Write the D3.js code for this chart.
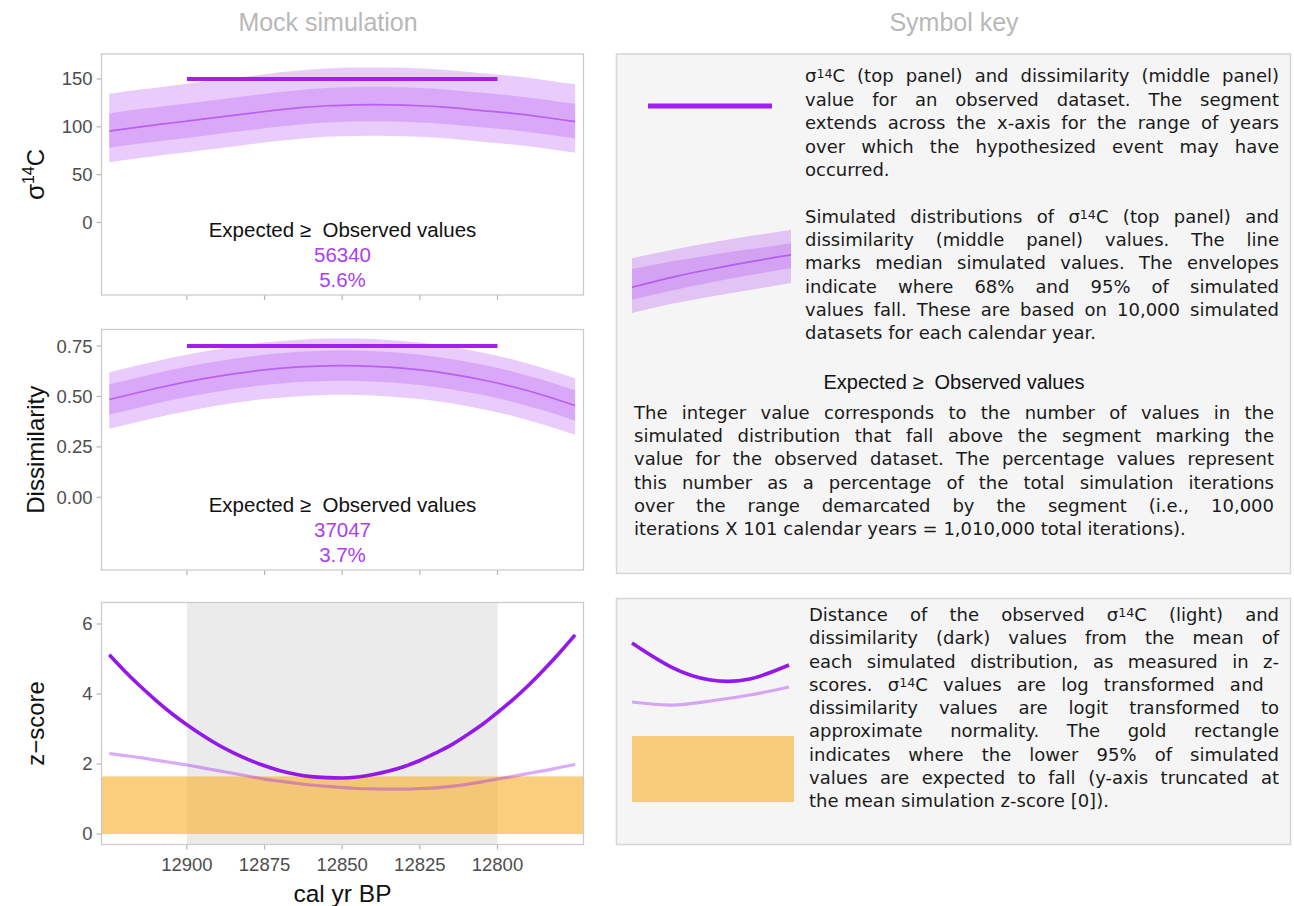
<!DOCTYPE html>
<html>
<head>
<meta charset="utf-8">
<script src="https://cdn.jsdelivr.net/npm/d3@7"></script>
<style>
  body { margin: 0; background: #fff; }
  svg { display: block; }
</style>
</head>
<body>
<svg id="chart" width="1294" height="906"></svg>
<script>
// ---- simulated distributions (10-year steps, cal yr BP) ----
const bandYears = [12925, 12915, 12905, 12895, 12885, 12875, 12865, 12855, 12845, 12835, 12825, 12815, 12805, 12795, 12785, 12775];

const c14Median = [95.5, 100, 104, 108, 112, 116, 119.5, 122, 123, 123, 122, 120, 117, 114, 110, 105.5];
const c14Lo68   = [78, 82.5, 86.5, 90.5, 94.5, 98.5, 102, 104.5, 105.5, 105.5, 104.5, 102.5, 99.5, 96.5, 92.5, 88];
const c14Hi68   = [114, 118.5, 122.5, 126.5, 130.5, 134.5, 138, 140.5, 141.5, 141.5, 140.5, 138.5, 135.5, 132.5, 128.5, 124];
const c14Lo95   = [63, 67.5, 71.5, 75.5, 79.5, 83.5, 87, 89.5, 90.5, 90.5, 89.5, 87.5, 84.5, 81.5, 77.5, 73];
const c14Hi95   = [134.5, 139, 143, 147, 151, 155, 158.5, 161, 162, 162, 161, 159, 156, 153, 149, 144.5];

const dissMedian = [0.485, 0.522, 0.557, 0.587, 0.612, 0.632, 0.645, 0.652, 0.652, 0.645, 0.632, 0.611, 0.583, 0.548, 0.505, 0.455];
const dissLo68   = [0.41, 0.447, 0.482, 0.512, 0.537, 0.557, 0.57, 0.577, 0.577, 0.57, 0.557, 0.536, 0.508, 0.473, 0.43, 0.38];
const dissHi68   = [0.56, 0.597, 0.632, 0.662, 0.687, 0.707, 0.72, 0.727, 0.727, 0.72, 0.707, 0.686, 0.658, 0.623, 0.58, 0.53];
const dissLo95   = [0.34, 0.377, 0.412, 0.442, 0.467, 0.487, 0.5, 0.507, 0.507, 0.5, 0.487, 0.466, 0.438, 0.403, 0.36, 0.31];
const dissHi95   = [0.62, 0.657, 0.692, 0.722, 0.747, 0.767, 0.78, 0.787, 0.787, 0.78, 0.767, 0.746, 0.718, 0.683, 0.64, 0.59];

// ---- observed values and event window ----
const eventWindow = [12900, 12800];
const c14Observed = 150;
const dissObserved = 0.75;
const c14Counts = ["56340", "5.6%"];
const dissCounts = ["37047", "3.7%"];

// ---- z-scores of the observed values (5-year steps) ----
const zYears = [12925, 12920, 12915, 12910, 12905, 12900, 12895, 12890, 12885, 12880, 12875, 12870, 12865, 12860, 12855, 12850,
                12845, 12840, 12835, 12830, 12825, 12820, 12815, 12810, 12805, 12800, 12795, 12790, 12785, 12780, 12775];
const zDissim = [5.12, 4.65, 4.22, 3.82, 3.45, 3.12, 2.82, 2.55, 2.32, 2.12, 1.95, 1.81, 1.71, 1.64, 1.61, 1.60,
                 1.63, 1.70, 1.80, 1.93, 2.10, 2.31, 2.54, 2.82, 3.12, 3.47, 3.84, 4.25, 4.70, 5.18, 5.69];
const zC14    = [2.30, 2.24, 2.18, 2.11, 2.04, 1.97, 1.89, 1.81, 1.73, 1.65, 1.57, 1.51, 1.45, 1.40, 1.36, 1.33,
                 1.30, 1.29, 1.28, 1.28, 1.30, 1.32, 1.36, 1.42, 1.49, 1.57, 1.65, 1.73, 1.81, 1.90, 1.99];
const zUpper95 = 1.645;

// ---- tick labels ----
const xTicks = [12900, 12875, 12850, 12825, 12800];
const c14Ticks = [0, 50, 100, 150];
const dissTicks = [0, 0.25, 0.5, 0.75];
const zTicks = [0, 2, 4, 6];

// ---- symbol key samples (position along icon 0..1) ----
const keyT = [0, 0.25, 0.5, 0.75, 1];
const keyBandMedian = [0.31, 0.43, 0.53, 0.62, 0.70];
const keyBandLo68 = [0.16, 0.27, 0.37, 0.46, 0.54];
const keyBandHi68 = [0.53, 0.62, 0.70, 0.77, 0.84];
const keyBandLo95 = [0.0, 0.11, 0.20, 0.28, 0.36];
const keyBandHi95 = [0.66, 0.76, 0.85, 0.93, 1.0];
const keyZDark = [0.957, 0.614, 0.429, 0.443, 0.643];
const keyZLight = [0.114, 0.071, 0.129, 0.214, 0.329];

// ---- key text ----
const keyPara1 = [
  "σ14C (top panel) and dissimilarity (middle panel)",
  "value for an observed dataset. The segment",
  "extends across the x-axis for the range of years",
  "over which the hypothesized event may have",
  "occurred."
];
const keyPara2 = [
  "Simulated distributions of σ14C (top panel) and",
  "dissimilarity (middle panel) values. The line",
  "marks median simulated values. The envelopes",
  "indicate where 68% and 95% of simulated",
  "values fall. These are based on 10,000 simulated",
  "datasets for each calendar year."
];
const keyPara3 = [
  "The integer value corresponds to the number of values in the",
  "simulated distribution that fall above the segment marking the",
  "value for the observed dataset. The percentage values represent",
  "this number as a percentage of the total simulation iterations",
  "over the range demarcated by the segment (i.e., 10,000",
  "iterations X 101 calendar years = 1,010,000 total iterations)."
];
const keyPara4 = [
  "Distance of the observed σ14C (light) and",
  "dissimilarity (dark) values from the mean of",
  "each simulated distribution, as measured in z-",
  "scores. σ14C values are log transformed and ",
  "dissimilarity values are logit transformed to",
  "approximate normality. The gold rectangle",
  "indicates where the lower 95% of simulated",
  "values are expected to fall (y-axis truncated at",
  "the mean simulation z-score [0])."
];

// ---------------------------------------------------------------
const PURPLE = "#a020f0";
const SANS = "'Liberation Sans', Arial, Helvetica, sans-serif";
const KEYFONT = "'DejaVu Sans', Verdana, sans-serif";
const svg = d3.select("#chart");

const x = d3.scaleLinear().domain([12927.5, 12772.3]).range([101.5, 583.5]);

// σ14C with a raised, smaller "14"
function addSigma(textSel, str, fs, shift) {
  const parts = str.split(/(σ14C)/);
  parts.forEach(p => {
    if (p === "") return;
    if (p === "σ14C") {
      textSel.append("tspan").text("σ");
      textSel.append("tspan").text("14").attr("font-size", fs * 0.7).attr("dy", -fs * shift);
      textSel.append("tspan").text("C").attr("dy", fs * shift);
    } else {
      textSel.append("tspan").text(p);
    }
  });
}

function panelFrame(p) {
  const g = svg.append("g");
  const id = "clip" + p.name;
  svg.append("defs").append("clipPath").attr("id", id)
    .append("rect").attr("x", x.range()[0]).attr("y", p.top)
    .attr("width", x.range()[1] - x.range()[0]).attr("height", p.bottom - p.top);
  const inner = g.append("g").attr("clip-path", `url(#${id})`);
  return { g, inner };
}

function axes(g, p, y, tickFmt, showXLabels) {
  const yt = g.append("g");
  p.ticks.forEach(v => {
    yt.append("line").attr("x1", x.range()[0] - 5).attr("x2", x.range()[0])
      .attr("y1", y(v)).attr("y2", y(v)).attr("stroke", "#b5b5b5").attr("stroke-width", 1.2);
    yt.append("text").attr("x", x.range()[0] - 9).attr("y", y(v)).attr("dy", "0.35em")
      .attr("text-anchor", "end").attr("font-family", SANS).attr("font-size", 18.5)
      .attr("fill", "#4d4d4d").text(tickFmt(v));
  });
  const xt = g.append("g");
  xTicks.forEach(v => {
    xt.append("line").attr("x1", x(v)).attr("x2", x(v))
      .attr("y1", p.bottom).attr("y2", p.bottom + 5).attr("stroke", "#b5b5b5").attr("stroke-width", 1.2);
    if (showXLabels) {
      xt.append("text").attr("x", x(v)).attr("y", p.bottom + 20).attr("dy", "0.35em")
        .attr("text-anchor", "middle").attr("font-family", SANS).attr("font-size", 18.5)
        .attr("fill", "#4d4d4d").text(v);
    }
  });
  g.append("rect").attr("x", x.range()[0]).attr("y", p.top)
    .attr("width", x.range()[1] - x.range()[0]).attr("height", p.bottom - p.top)
    .attr("fill", "none").attr("stroke", "#cccccc").attr("stroke-width", 1.3);
  const t = g.append("text")
    .attr("transform", `translate(44,${(p.top + p.bottom) / 2}) rotate(-90)`)
    .attr("text-anchor", "middle").attr("font-family", SANS).attr("font-size", 24).attr("fill", "#111");
  if (p.title === "σ14C") {
    t.append("tspan").text("σ").attr("font-size", 26);
    t.append("tspan").text("14").attr("font-size", 16).attr("dy", -10);
    t.append("tspan").text("C").attr("dy", 10);
  } else {
    t.text(p.title);
  }
}

function bandPanel(p) {
  const y = d3.scaleLinear().domain(p.domain).range([p.bottom, p.top]);
  const { g, inner } = panelFrame(p);
  const rows = bandYears.map((yr, i) => ({ yr, med: p.med[i], lo68: p.lo68[i], hi68: p.hi68[i], lo95: p.lo95[i], hi95: p.hi95[i] }));
  const curve = d3.curveNatural;
  inner.append("path").datum(rows)
    .attr("d", d3.area().x(d => x(d.yr)).y0(d => y(d.lo95)).y1(d => y(d.hi95)).curve(curve))
    .attr("fill", PURPLE).attr("fill-opacity", 0.23);
  inner.append("path").datum(rows)
    .attr("d", d3.area().x(d => x(d.yr)).y0(d => y(d.lo68)).y1(d => y(d.hi68)).curve(curve))
    .attr("fill", PURPLE).attr("fill-opacity", 0.2);
  inner.append("path").datum(rows)
    .attr("d", d3.line().x(d => x(d.yr)).y(d => y(d.med)).curve(curve))
    .attr("fill", "none").attr("stroke", PURPLE).attr("stroke-opacity", 0.55).attr("stroke-width", 1.7);
  inner.append("line").attr("x1", x(eventWindow[0])).attr("x2", x(eventWindow[1]))
    .attr("y1", y(p.observed)).attr("y2", y(p.observed))
    .attr("stroke", PURPLE).attr("stroke-width", 4);
  const cx = (x.range()[0] + x.range()[1]) / 2;
  g.append("text").attr("x", cx).attr("y", p.bottom - 65).attr("dy", "0.35em")
    .attr("text-anchor", "middle").attr("font-family", SANS).attr("font-size", 20.5)
    .attr("fill", "#111").style("white-space", "pre").text("Expected ≥\u00a0 Observed values");
  g.append("text").attr("x", cx).attr("y", p.bottom - 40).attr("dy", "0.35em")
    .attr("text-anchor", "middle").attr("font-family", SANS).attr("font-size", 20.5)
    .attr("fill", "#ad3ef2").text(p.counts[0]);
  g.append("text").attr("x", cx).attr("y", p.bottom - 15).attr("dy", "0.35em")
    .attr("text-anchor", "middle").attr("font-family", SANS).attr("font-size", 20.5)
    .attr("fill", "#ad3ef2").text(p.counts[1]);
  axes(g, p, y, p.fmt, false);
}

bandPanel({ name: "c14", top: 54, bottom: 295, domain: [-75.8, 176.1], ticks: c14Ticks, fmt: d3.format("d"),
  med: c14Median, lo68: c14Lo68, hi68: c14Hi68, lo95: c14Lo95, hi95: c14Hi95,
  observed: c14Observed, counts: c14Counts, title: "σ14C" });

bandPanel({ name: "diss", top: 329.5, bottom: 570, domain: [-0.3604, 0.832], ticks: dissTicks, fmt: d3.format(".2f"),
  med: dissMedian, lo68: dissLo68, hi68: dissHi68, lo95: dissLo95, hi95: dissHi95,
  observed: dissObserved, counts: dissCounts, title: "Dissimilarity" });

// ---- z-score panel ----
(function () {
  const p = { name: "z", top: 602.5, bottom: 844.5, ticks: zTicks, title: "z\u2212score" };
  const y = d3.scaleLinear().domain([-0.3, 6.614]).range([p.bottom, p.top]);
  const { g, inner } = panelFrame(p);
  inner.append("rect").attr("x", x(eventWindow[0])).attr("y", p.top)
    .attr("width", x(eventWindow[1]) - x(eventWindow[0])).attr("height", p.bottom - p.top)
    .attr("fill", "#ebebeb");
  inner.append("rect").attr("x", x.range()[0]).attr("y", y(zUpper95))
    .attr("width", x.range()[1] - x.range()[0]).attr("height", y(0) - y(zUpper95))
    .attr("fill", "#f9b53a").attr("fill-opacity", 0.66);
  const rows = zYears.map((yr, i) => ({ yr, d: zDissim[i], c: zC14[i] }));
  inner.append("path").datum(rows)
    .attr("d", d3.line().x(d => x(d.yr)).y(d => y(d.c)).curve(d3.curveMonotoneX))
    .attr("fill", "none").attr("stroke", PURPLE).attr("stroke-opacity", 0.38).attr("stroke-width", 3.2);
  inner.append("path").datum(rows)
    .attr("d", d3.line().x(d => x(d.yr)).y(d => y(d.d)).curve(d3.curveMonotoneX))
    .attr("fill", "none").attr("stroke", "#9418e8").attr("stroke-width", 3.6);
  axes(g, p, y, d3.format("d"), true);
  g.append("text").attr("x", (x.range()[0] + x.range()[1]) / 2).attr("y", 893).attr("dy", "0.35em")
    .attr("text-anchor", "middle").attr("font-family", SANS).attr("font-size", 24.5).attr("fill", "#111")
    .text("cal yr BP");
})();

// ---- column titles ----
svg.append("text").attr("x", 328).attr("y", 22).attr("dy", "0.35em").attr("text-anchor", "middle")
  .attr("font-family", SANS).attr("font-size", 25).attr("fill", "#b8b8b8").text("Mock simulation");
svg.append("text").attr("x", 954).attr("y", 22).attr("dy", "0.35em").attr("text-anchor", "middle")
  .attr("font-family", SANS).attr("font-size", 25).attr("fill", "#b8b8b8").text("Symbol key");

// ---- symbol key boxes ----
const keyBoxes = [{ top: 54, bottom: 573.5 }, { top: 598.5, bottom: 844.5 }];
keyBoxes.forEach(b => {
  svg.append("rect").attr("x", 616.5).attr("y", b.top).attr("width", 674).attr("height", b.bottom - b.top)
    .attr("fill", "#f5f5f5").attr("stroke", "#d6d6d6").attr("stroke-width", 1.5);
});

const KFS = 18;
// justified key paragraphs; the last line of each paragraph stays ragged
function paragraph(lines, x0, x1, y0, lh) {
  const g = svg.append("g").attr("font-family", KEYFONT).attr("font-size", KFS).attr("fill", "#1a1a1a");
  lines.forEach((line, i) => {
    const last = i === lines.length - 1;
    const trailing = /\s$/.test(line);
    const words = line.trim().split(/\s+/);
    const yy = y0 + i * lh;
    const nodes = words.map(w => {
      const t = g.append("text").attr("y", yy);
      addSigma(t, w, KFS, 0.22);
      return t;
    });
    const widths = nodes.map(n => n.node().getComputedTextLength());
    const total = d3.sum(widths);
    const nGaps = words.length - 1 + (trailing ? 1 : 0);
    const gap = (!last && nGaps > 0) ? (x1 - x0 - total) / nGaps : KFS * 0.318;
    let cx = x0;
    nodes.forEach((n, j) => { n.attr("x", cx); cx += widths[j] + gap; });
  });
}

paragraph(keyPara1, 805, 1279, 82, 23.5);
paragraph(keyPara2, 805, 1279, 223, 23.2);
svg.append("text").attr("x", 954).attr("y", 382).attr("dy", "0.35em").attr("text-anchor", "middle")
  .attr("font-family", SANS).attr("font-size", 20).attr("fill", "#111").style("white-space", "pre")
  .text("Expected ≥\u00a0 Observed values");
paragraph(keyPara3, 634, 1274, 419, 23.2);
paragraph(keyPara4, 809, 1279, 621, 23.25);

// key: observed segment
svg.append("line").attr("x1", 648).attr("x2", 772).attr("y1", 106).attr("y2", 106)
  .attr("stroke", PURPLE).attr("stroke-width", 5);

// key: envelope swatch
(function () {
  const kx = d3.scaleLinear().domain([0, 1]).range([632, 791]);
  const ky = d3.scaleLinear().domain([0, 1]).range([313, 230]);
  const rows = keyT.map((t, i) => ({ t, med: keyBandMedian[i], lo68: keyBandLo68[i], hi68: keyBandHi68[i], lo95: keyBandLo95[i], hi95: keyBandHi95[i] }));
  const c = d3.curveNatural;
  svg.append("path").datum(rows).attr("d", d3.area().x(d => kx(d.t)).y0(d => ky(d.lo95)).y1(d => ky(d.hi95)).curve(c))
    .attr("fill", PURPLE).attr("fill-opacity", 0.23);
  svg.append("path").datum(rows).attr("d", d3.area().x(d => kx(d.t)).y0(d => ky(d.lo68)).y1(d => ky(d.hi68)).curve(c))
    .attr("fill", PURPLE).attr("fill-opacity", 0.2);
  svg.append("path").datum(rows).attr("d", d3.line().x(d => kx(d.t)).y(d => ky(d.med)).curve(c))
    .attr("fill", "none").attr("stroke", PURPLE).attr("stroke-opacity", 0.55).attr("stroke-width", 1.7);
})();

// key: z-score lines and gold rectangle
(function () {
  const kx = d3.scaleLinear().domain([0, 1]).range([632, 789]);
  const ky = d3.scaleLinear().domain([0, 1]).range([710, 640]);
  const rows = keyT.map((t, i) => ({ t, d: keyZDark[i], c: keyZLight[i] }));
  svg.append("rect").attr("x", 632).attr("y", 736).attr("width", 162).attr("height", 66)
    .attr("fill", "#f9b53a").attr("fill-opacity", 0.66);
  svg.append("path").datum(rows).attr("d", d3.line().x(d => kx(d.t)).y(d => ky(d.c)).curve(d3.curveNatural))
    .attr("fill", "none").attr("stroke", PURPLE).attr("stroke-opacity", 0.38).attr("stroke-width", 3.2);
  svg.append("path").datum(rows).attr("d", d3.line().x(d => kx(d.t)).y(d => ky(d.d)).curve(d3.curveNatural))
    .attr("fill", "none").attr("stroke", "#9418e8").attr("stroke-width", 3.6);
})();
</script>
</body>
</html>
